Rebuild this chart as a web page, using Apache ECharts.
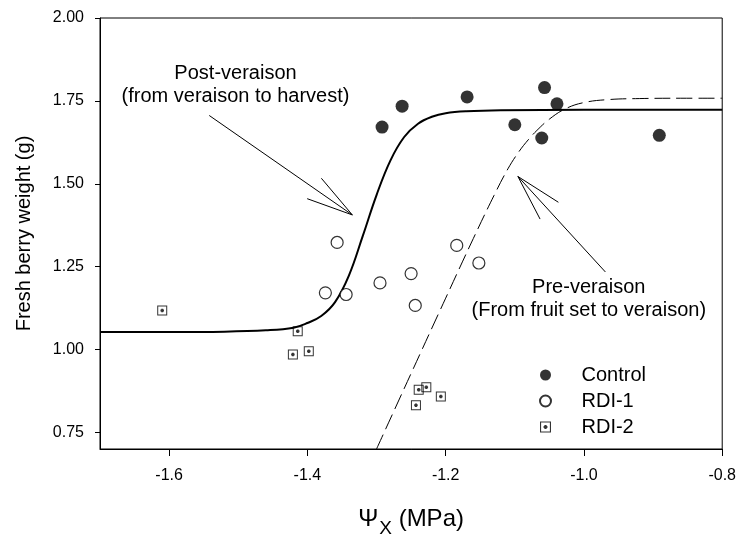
<!DOCTYPE html>
<html><head><meta charset="utf-8">
<script src="https://cdn.jsdelivr.net/npm/echarts@6/dist/echarts.min.js"></script>
<style>html,body{margin:0;padding:0;background:#fff}#c{width:739px;height:543px}</style>
</head><body><div id="c"></div>
<script>
// ---- data ----
const xTickValues = [-1.6, -1.4, -1.2, -1.0, -0.8];
const yTickValues = [0.75, 1.00, 1.25, 1.50, 1.75, 2.00];

const controlData = [
  [-1.292, 1.671], [-1.263, 1.734], [-1.169, 1.762], [-1.057, 1.790],
  [-1.100, 1.678], [-1.061, 1.638], [-1.039, 1.741], [-0.891, 1.646]
];
const rdi1Data = [
  [-1.357, 1.323], [-1.374, 1.171], [-1.344, 1.166], [-1.295, 1.201],
  [-1.250, 1.229], [-1.244, 1.133], [-1.184, 1.314], [-1.152, 1.261]
];
const rdi2Data = [
  [-1.610, 1.118], [-1.414, 1.055], [-1.421, 0.985], [-1.398, 0.995],
  [-1.239, 0.879], [-1.228, 0.886], [-1.207, 0.858], [-1.243, 0.832]
];
// Post-veraison fitted curve (solid)
const postVeraisonCurve = [
  [-1.70, 1.053], [-1.60, 1.053], [-1.52, 1.054], [-1.46, 1.058], [-1.42, 1.066],
  [-1.40, 1.080], [-1.38, 1.101], [-1.36, 1.143], [-1.34, 1.223], [-1.32, 1.342],
  [-1.30, 1.466], [-1.28, 1.570], [-1.26, 1.641], [-1.24, 1.681], [-1.22, 1.702],
  [-1.20, 1.713], [-1.17, 1.719], [-1.12, 1.722], [-1.00, 1.723], [-0.80, 1.723]
];
// Pre-veraison fitted curve (dashed)
const preVeraisonCurve = [
  [-1.300, 0.700], [-1.250, 0.928], [-1.200, 1.155], [-1.160, 1.335], [-1.130, 1.465],
  [-1.110, 1.545], [-1.094, 1.597], [-1.080, 1.634], [-1.068, 1.661], [-1.050, 1.695],
  [-1.027, 1.726], [-1.000, 1.745], [-0.964, 1.754], [-0.920, 1.757], [-0.860, 1.758], [-0.800, 1.758]
];
const annotationTexts = ['Post-veraison\n(from veraison to harvest)', 'Pre-veraison\n(From fruit set to veraison)'];
const annotationTextAt = [[-1.504, 1.797], [-0.993, 1.152]];
const annotationArrowFrom = [[-1.542, 1.706], [-0.969, 1.234]];
const annotationArrowTo = [[-1.335, 1.406], [-1.0955, 1.522]];

// ---- chart ----
const FONT = 'Liberation Sans, Arial, Helvetica, sans-serif';
const squareDot = 'path://M0 0H20V20H0Z M2 2V18H18V2Z M8 6.5H12V8H13.5V12H12V13.5H8V12H6.5V8H8Z';
const chart = echarts.init(document.getElementById('c'), null, {renderer: 'canvas'});

const option = {
  animation: false,
  backgroundColor: '#fff',
  textStyle: {fontFamily: FONT, color: '#000'},
  grid: {left: 100, top: 18, width: 624, height: 436, show: true, borderColor: '#000', borderWidth: 1, backgroundColor: 'transparent'},
  xAxis: {
    type: 'value', min: -1.7, max: -0.8,
    axisLine: {show: true, onZero: false, lineStyle: {color: '#000', width: 1}},
    axisTick: {show: true, length: 7, customValues: xTickValues, lineStyle: {color: '#000'}},
    axisLabel: {customValues: xTickValues, margin: 19, fontSize: 16, color: '#000', fontFamily: FONT,
      formatter: v => v.toFixed(1)},
    splitLine: {show: false},
    name: '{a|Ψ}{sub|X}{a| (MPa)}', nameLocation: 'middle', nameGap: 58,
    nameTextStyle: {fontFamily: FONT, color: '#000',
      rich: {
        a: {fontSize: 24, lineHeight: 28, verticalAlign: 'top', fontFamily: FONT, color: '#000'},
        sub: {fontSize: 19, lineHeight: 20, padding: [12, 0, 0, 1], verticalAlign: 'top', fontFamily: FONT, color: '#000'}
      }}
  },
  yAxis: {
    type: 'value', min: 0.7, max: 2.0,
    axisLine: {show: true, onZero: false, lineStyle: {color: '#000', width: 1}},
    axisTick: {show: true, length: 5, customValues: yTickValues, lineStyle: {color: '#000'}},
    axisLabel: {customValues: yTickValues, margin: 16, fontSize: 16, color: '#000', fontFamily: FONT,
      formatter: v => v.toFixed(2)},
    splitLine: {show: false},
    name: 'Fresh berry weight (g)', nameLocation: 'middle', nameGap: 66, nameRotate: 90,
    nameTextStyle: {fontSize: 20, color: '#000', fontFamily: FONT}
  },
  legend: {
    data: ['Control', 'RDI-1', 'RDI-2'], orient: 'vertical', left: 534, top: 360,
    itemWidth: 62, itemHeight: 11, itemGap: 6, selectedMode: false,
    textStyle: {fontSize: 20, color: '#000', fontFamily: FONT}
  },
  series: [
    {type: 'line', name: 'post', data: postVeraisonCurve, showSymbol: false, smooth: 0.4,
      lineStyle: {color: '#000', width: 2}, silent: true, z: 2},
    {type: 'line', name: 'pre', data: preVeraisonCurve, showSymbol: false, smooth: 0.4,
      lineStyle: {color: '#000', width: 1, type: [16, 6]}, silent: true, z: 2},
    {type: 'scatter', name: 'Control', data: controlData, symbol: 'circle', symbolSize: 13,
      itemStyle: {color: '#000'}, z: 3},
    {type: 'scatter', name: 'RDI-1', data: rdi1Data, symbol: 'circle', symbolSize: 12,
      itemStyle: {color: '#fff', borderColor: '#000', borderWidth: 1.2}, z: 3},
    {type: 'scatter', name: 'RDI-2', data: rdi2Data, symbol: squareDot, symbolSize: 10,
      itemStyle: {color: '#000'}, z: 3}
  ]
};
chart.setOption(option);

// annotations (text + open-V arrows) placed in data coordinates
const graphics = [];
const toPx = p => chart.convertToPixel({gridIndex: 0}, p);
for (let i = 0; i < annotationTexts.length; i++) {
  const t = toPx(annotationTextAt[i]);
  graphics.push({type: 'text', x: t[0], y: t[1], z: 10,
    style: {text: annotationTexts[i], fontSize: 20, fontFamily: FONT, fill: '#000', align: 'center', verticalAlign: 'middle', lineHeight: 23}});
  const a = toPx(annotationArrowFrom[i]);
  const b = toPx(annotationArrowTo[i]);
  const ang = Math.atan2(a[1] - b[1], a[0] - b[0]);
  const L = 48, h = 15 * Math.PI / 180;
  const p1 = [b[0] + L * Math.cos(ang + h), b[1] + L * Math.sin(ang + h)];
  const p2 = [b[0] + L * Math.cos(ang - h), b[1] + L * Math.sin(ang - h)];
  graphics.push({type: 'polyline', z: 10, shape: {points: [a, b]}, style: {stroke: '#000', lineWidth: 1, fill: null}});
  graphics.push({type: 'polyline', z: 10, shape: {points: [p1, b, p2]}, style: {stroke: '#000', lineWidth: 1, fill: null}});
}
chart.setOption({graphic: graphics});
</script>
</body></html>
